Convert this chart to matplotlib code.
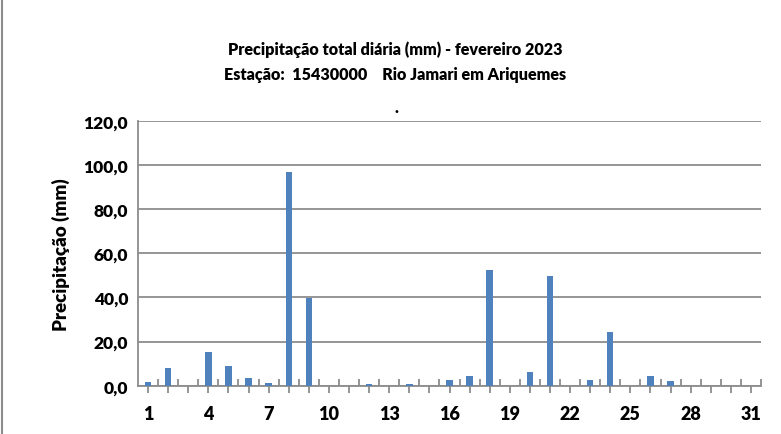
#!/usr/bin/env python3
"""Daily rainfall bar chart, Feb 2023, station 15430000."""

import matplotlib
matplotlib.use("Agg")
import matplotlib.pyplot as plt
from matplotlib.ticker import FixedLocator, FuncFormatter

days = list(range(1, 32))
rain_mm = [1.5, 7.8, 0.0, 15.1, 9.1, 3.3, 1.4, 96.6, 39.8, 0.0,
           0.0, 0.8, 0.0, 0.8, 0.0, 2.6, 4.4, 52.4, 0.0, 6.2,
           49.8, 0.0, 2.4, 24.3, 0.0, 4.4, 2.3, 0.0, 0.0, 0.0,
           0.0]
y_ticks = [0, 20, 40, 60, 80, 100, 120]
title = "Precipitação total diária (mm) - fevereiro 2023\nEstação:  15430000    Rio Jamari em Ariquemes"

plt.rcParams["font.family"] = ["Lato", "DejaVu Sans"]
plt.rcParams["font.weight"] = "heavy"

fig = plt.figure(figsize=(7.81, 4.35), dpi=100)
ax = fig.add_axes([138 / 781, 48.3 / 435, 623 / 781, 265 / 435])

pos = [d - 1 for d in days]
ax.bar(pos, rain_mm, width=0.32, color="#4F81BD", zorder=3)

ax.set_xlim(-0.5, len(days) - 0.5)
ax.set_ylim(0, 120)
ax.set_yticks(y_ticks)
ax.yaxis.set_major_formatter(FuncFormatter(lambda v, _: f"{v:.1f}".replace(".", ",")))
ax.yaxis.grid(True, color="#8c8c8c", linewidth=1.3, zorder=0)
ax.tick_params(axis="y", length=0, pad=7, labelsize=12.5)

ax.xaxis.set_major_locator(FixedLocator(pos))
ax.set_xticklabels([str(d) if (d - 1) % 3 == 0 else "" for d in days])
ax.xaxis.set_minor_locator(FixedLocator([p + 0.5 for p in pos]))
ax.tick_params(axis="x", which="major", direction="out", length=5, width=1.3,
               color="#8c8c8c", pad=9, labelsize=13)
ax.tick_params(axis="x", which="minor", direction="in", length=5, width=1.3,
               color="#8c8c8c")

for side in ("top", "right"):
    ax.spines[side].set_visible(False)
for side in ("left", "bottom"):
    ax.spines[side].set_color("#8c8c8c")
    ax.spines[side].set_linewidth(1.3)

ax.set_ylabel("Precipitação (mm)", fontsize=13.5, fontweight="heavy", labelpad=10)

fig.text(0.506, 0.857, title, ha="center", va="center", fontsize=11.6,
         fontweight="heavy", linespacing=1.75)
fig.text(0.507, 0.752, ".", ha="center", va="center", fontsize=12, fontweight="heavy")

# border line of the original chart frame on the left
fig.add_artist(plt.Line2D([2 / 781, 2 / 781], [0, 1], color="#8c8c8c", linewidth=1.5))

fig.savefig("out.png", dpi=100)
